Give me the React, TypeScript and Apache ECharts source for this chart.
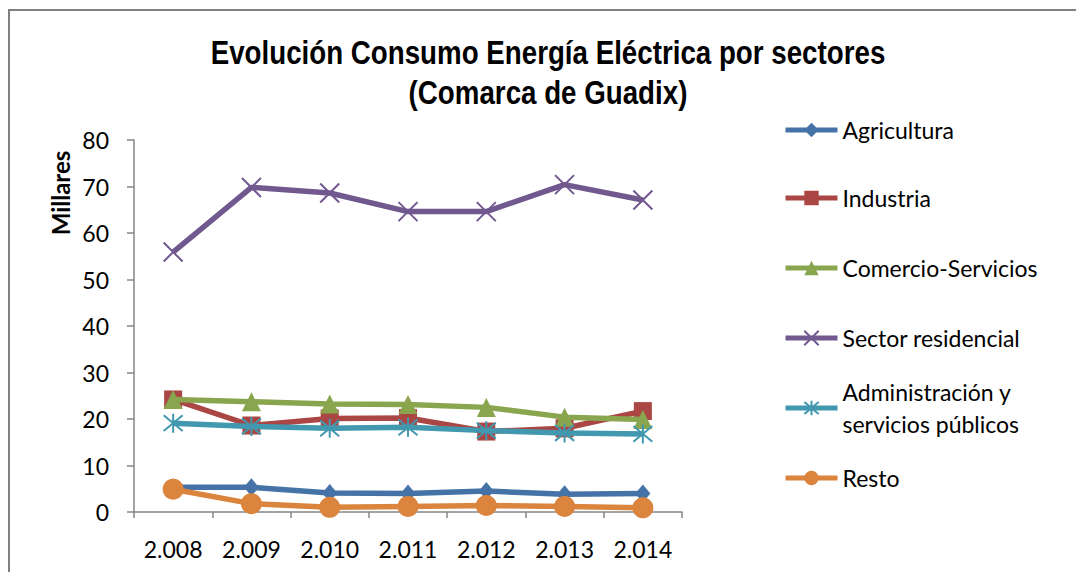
import React, { useEffect, useRef } from "react";
import * as echarts from "echarts";

const categories = ["2.008", "2.009", "2.010", "2.011", "2.012", "2.013", "2.014"];
const agricultura = [5.3, 5.3, 4.1, 4.0, 4.5, 3.8, 4.0];
const industria = [24.2, 18.6, 20.1, 20.2, 17.3, 18.0, 21.7];
const comercio = [24.2, 23.7, 23.2, 23.1, 22.5, 20.4, 19.9];
const residencial = [55.9, 69.8, 68.6, 64.6, 64.6, 70.4, 67.1];
const administracion = [19.1, 18.4, 18.0, 18.2, 17.5, 17.0, 16.8];
const resto = [4.9, 1.8, 1.0, 1.2, 1.4, 1.2, 0.9];

const yTicks = { min: 0, max: 80, interval: 10 };

const titleLines = ["Evolución Consumo Energía Eléctrica por sectores", "(Comarca de Guadix)"];

const seriesNames = [
  "Agricultura",
  "Industria",
  "Comercio-Servicios",
  "Sector residencial",
  "Administración y\nservicios públicos",
  "Resto",
];

const legendCenters = [130, 198, 268, 338, 408, 478];

const colors = ["#4572A7", "#AA4643", "#89A54E", "#71588F", "#4198AF", "#DB843D"];

const FONT = "Lato, 'Open Sans', sans-serif";

export default function App() {
  const ref = useRef<HTMLDivElement>(null);
  useEffect(() => {
    if (!ref.current) return;
    const chart = echarts.init(ref.current, null, { renderer: "svg" });
    const datasets = [agricultura, industria, comercio, residencial, administracion, resto];
    const symbols = [
      "diamond",
      "rect",
      "triangle",
      "path://M0 0L10 10M10 0L0 10",
      "path://M0 0L10 10M10 0L0 10M5 -1L5 11",
      "circle",
    ];
    const sizes: any[] = [[15, 18], 18, 19, 19, 19, 21];
    const series = datasets.map((d, i) => {
      const stroked = i === 3 || i === 4;
      return {
        name: seriesNames[i],
        type: "line",
        data: d,
        symbol: symbols[i],
        symbolSize: sizes[i],
        showAllSymbol: true,
        z: 2 + i,
        lineStyle: { color: colors[i], width: 5.5 },
        itemStyle: stroked
          ? { color: "rgba(0,0,0,0)", borderColor: colors[i], borderWidth: 2 }
          : { color: colors[i] },
        color: colors[i],
      };
    });
    const legends = seriesNames.map((n, i) => {
      const multi = i === 4;
      return {
        data: [n],
        orient: "vertical",
        left: 783,
        top: multi ? legendCenters[i] - 48 : legendCenters[i] - 16,
        padding: 0,
        itemWidth: 52,
        itemHeight: 18,
        itemGap: 0,
        selectedMode: false,
        lineStyle: { width: 5 },
        textStyle: {
          fontFamily: FONT,
          fontSize: 23,
          color: "#000",
          lineHeight: 32,
          padding: multi ? [32, 0, 0, 0] : 0,
        },
      };
    });
    const titleGraphics = titleLines.map((t, i) => ({
      type: "text",
      x: 548,
      y: 52 + i * 40,
      scaleX: 0.84,
      style: {
        text: t,
        fontFamily: "'Liberation Sans', Arial, sans-serif",
        fontWeight: "bold",
        fontSize: 33,
        fill: "#000",
        textAlign: "center",
        textVerticalAlign: "middle",
      },
    }));
    chart.setOption({
      animation: false,
      backgroundColor: "#fff",
      legend: legends,
      grid: { left: 134, right: 394, top: 140, bottom: 60, containLabel: false },
      xAxis: {
        type: "category",
        data: categories,
        boundaryGap: true,
        axisLine: { lineStyle: { color: "#868686", width: 1.5 } },
        axisTick: { show: true, length: 6, lineStyle: { color: "#868686", width: 1.5 } },
        axisLabel: { fontFamily: FONT, fontSize: 23, color: "#000", margin: 25 },
      },
      yAxis: {
        type: "value",
        min: yTicks.min,
        max: yTicks.max,
        interval: yTicks.interval,
        splitLine: { show: false },
        axisLine: { show: true, lineStyle: { color: "#868686", width: 1.5 } },
        axisTick: { show: true, length: 7, lineStyle: { color: "#868686", width: 1.5 } },
        axisLabel: { fontFamily: FONT, fontSize: 23, color: "#000", margin: 25 },
      },
      graphic: [
        {
          type: "rect",
          shape: { x: 9, y: 10, width: 2000, height: 2000 },
          style: { fill: "none", stroke: "#808080", lineWidth: 2 },
          silent: true,
          z: -1,
        },
        ...titleGraphics,
        {
          type: "text",
          x: 60,
          y: 193,
          rotation: Math.PI / 2,
          style: {
            text: "Millares",
            fontFamily: FONT,
            fontWeight: "bold",
            fontSize: 24,
            fill: "#000",
            textAlign: "center",
            textVerticalAlign: "middle",
          },
        },
      ],
      series,
    });
    return () => chart.dispose();
  }, []);
  return (
    <div
      ref={ref}
      style={{ position: "fixed", left: 0, top: 0, width: 1076, height: 572 }}
    />
  );
}
